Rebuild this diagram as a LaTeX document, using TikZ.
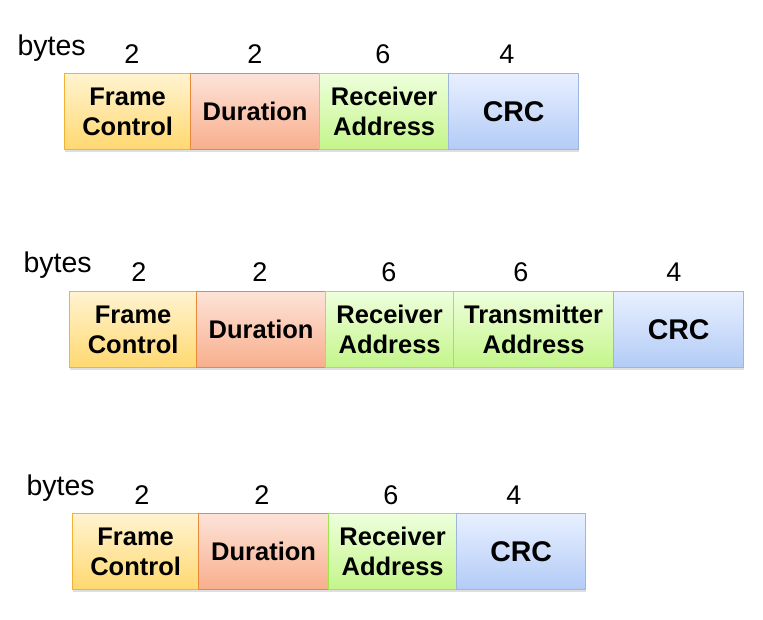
\documentclass[tikz,border=0pt]{standalone}
\usepackage{fontspec}
\setmainfont{Liberation Sans}
\usetikzlibrary{shadows}

\definecolor{fcline}{HTML}{F2B233}
\definecolor{fctop}{HTML}{FFF3D0}
\definecolor{fcbot}{HTML}{FFD870}
\definecolor{duline}{HTML}{E8893C}
\definecolor{dutop}{HTML}{FDE3D8}
\definecolor{dubot}{HTML}{F8AE8C}
\definecolor{raline}{HTML}{9BE84C}
\definecolor{ratop}{HTML}{EEFFDC}
\definecolor{rabot}{HTML}{C4F58A}
\definecolor{crline}{HTML}{9CB6E0}
\definecolor{crtop}{HTML}{E8F0FF}
\definecolor{crbot}{HTML}{B3CBF6}

\begin{document}
\begin{tikzpicture}[x=1pt,y=-1pt,
  field/.style={line width=1.3pt, align=center, inner sep=0pt, anchor=north west,
    minimum height=76pt, font=\bfseries\fontsize{25.5}{30}\selectfont,
    drop shadow={shadow xshift=0pt, shadow yshift=-2.5pt, opacity=0.25, fill=gray}},
  fc/.style={field, draw=fcline, top color=fctop, bottom color=fcbot},
  du/.style={field, draw=duline, top color=dutop, bottom color=dubot},
  ra/.style={field, draw=raline, top color=ratop, bottom color=rabot},
  cr/.style={field, draw=crline, top color=crtop, bottom color=crbot,
    font=\bfseries\fontsize{28.5}{30}\selectfont},
  num/.style={anchor=base, font=\fontsize{27}{30}\selectfont},
  unit/.style={anchor=base west, font=\fontsize{28.5}{30}\selectfont}]
\useasboundingbox (0,0) rectangle (763,619);

% row 1
\node[fc, minimum width=126pt] (fc1)  at (64,73)  {Frame\\Control};
\node[du, minimum width=129pt] (du1)  at (190,73) {Duration};
\node[ra, minimum width=129pt] (ra1)  at (319,73) {Receiver\\Address};
\node[cr, minimum width=130pt] (crc1) at (448,73) {CRC};
\node[unit] (by1) at (14,55) {bytes};
\foreach \x/\n in {132/2,255/2,383/6,507/4}
  \node[num] at (\x,63) {\n};

% row 2
\node[fc, minimum width=127pt] (fc2)  at (69,291)  {Frame\\Control};
\node[du, minimum width=129pt] (du2)  at (196,291) {Duration};
\node[ra, minimum width=128pt] (ra2)  at (325,291) {Receiver\\Address};
\node[ra, minimum width=160pt] (ta2)  at (453,291) {Transmitter\\Address};
\node[cr, minimum width=130pt] (crc2) at (613,291) {CRC};
\node[unit] (by2) at (20,272) {bytes};
\foreach \x/\n in {139/2,260/2,389/6,521/6,674/4}
  \node[num] at (\x,281) {\n};

% row 3
\node[fc, minimum width=126pt] (fc3)  at (72,513)  {Frame\\Control};
\node[du, minimum width=130pt] (du3)  at (198,513) {Duration};
\node[ra, minimum width=128pt] (ra3)  at (328,513) {Receiver\\Address};
\node[cr, minimum width=129pt] (crc3) at (456,513) {CRC};
\node[unit] (by3) at (23,495) {bytes};
\foreach \x/\n in {142/2,262/2,391/6,514/4}
  \node[num] at (\x,504) {\n};
\end{tikzpicture}
\end{document}
